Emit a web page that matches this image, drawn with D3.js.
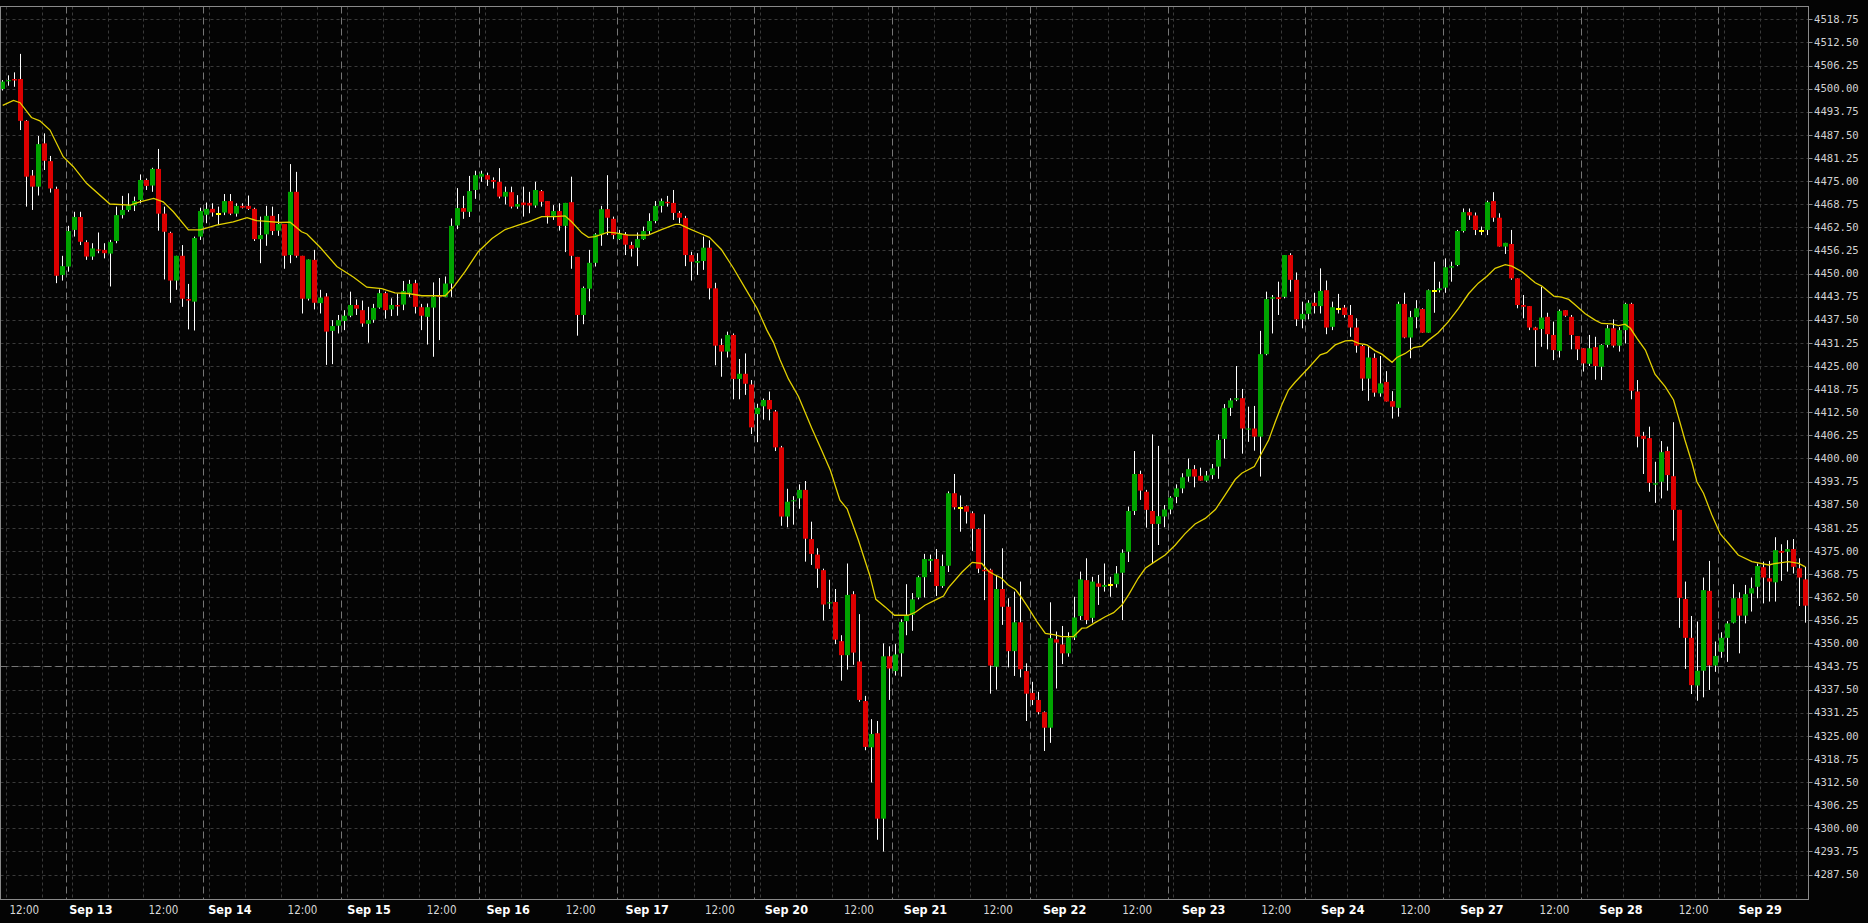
<!DOCTYPE html>
<html><head><meta charset="utf-8">
<script src="https://cdn.jsdelivr.net/npm/d3@7"></script>
<style>html,body{margin:0;padding:0;background:#040404;overflow:hidden}</style>
</head><body>
<svg id="chart" width="1868" height="923"></svg>
<script>
// ---- DATA (hourly candles) ----
const opens = [
4499.9,4502.0,4502.6,4502.6,4491.3,4476.5,4473.5,4485.2,4480.4,4472.9,
4449.6,4451.9,4461.8,4465.3,4458.5,4454.6,4456.5,4456.4,4455.4,4458.8,
4465.8,4467.2,4468.4,4469.9,4475.3,4473.8,4478.3,4466.2,4461.0,4448.1,
4454.8,4443.1,4442.4,4460.0,4465.9,4467.5,4466.2,4466.5,4469.6,4466.2,
4468.3,4468.3,4467.5,4459.3,4460.6,4465.6,4461.6,4463.4,4455.0,4472.1,
4454.8,4443.2,4453.7,4442.0,4443.8,4434.5,4435.9,4437.2,4438.6,4441.5,
4440.1,4436.4,4437.5,4440.8,4444.7,4440.3,4441.5,4441.6,4444.8,4447.4,
4440.9,4438.3,4440.8,4444.1,4443.7,4447.3,4463.0,4467.7,4466.7,4472.6,
4476.2,4476.6,4475.3,4474.8,4470.8,4472.0,4468.1,4469.2,4469.1,4468.4,
4472.3,4469.6,4465.6,4466.9,4462.9,4469.3,4454.5,4438.8,4445.9,4452.9,
4460.6,4467.4,4464.8,4459.3,4460.6,4457.7,4457.0,4459.3,4461.5,4464.2,
4468.3,4469.4,4469.1,4466.4,4465.0,4455.0,4452.9,4453.4,4457.0,4446.0,
4430.7,4428.9,4433.4,4421.5,4422.9,4420.0,4412.0,4414.1,4415.8,4412.7,
4403.0,4384.3,4388.4,4389.2,4391.5,4378.2,4374.0,4369.8,4360.8,4361.2,
4350.6,4346.8,4363.3,4345.1,4334.4,4321.9,4325.7,4302.6,4346.5,4342.5,
4347.3,4356.0,4357.7,4362.4,4367.9,4372.3,4372.8,4365.5,4371.0,4390.6,
4386.6,4387.1,4385.2,4380.9,4369.9,4369.9,4343.7,4364.7,4359.9,4347.9,
4355.7,4342.5,4336.6,4334.7,4331.4,4327.2,4351.1,4349.7,4347.3,4351.6,
4357.4,4367.1,4356.9,4366.2,4365.3,4365.9,4366.0,4369.1,4374.8,4385.8,
4395.8,4391.0,4385.8,4382.3,4384.3,4386.2,4389.6,4391.9,4395.1,4397.1,
4395.3,4394.0,4395.5,4397.8,4405.3,4413.7,4415.9,4416.3,4407.8,4408.1,
4405.9,4428.2,4443.2,4443.6,4443.7,4455.0,4448.3,4437.6,4439.1,4442.1,
4441.2,4445.5,4435.6,4440.5,4440.8,4438.8,4435.4,4430.4,4421.6,4427.2,
4417.6,4420.7,4415.5,4413.7,4441.8,4432.7,4438.2,4440.4,4434.0,4445.4,
4445.5,4446.2,4451.6,4452.3,4461.5,4466.6,4465.7,4461.6,4461.8,4469.6,
4465.1,4457.3,4458.0,4448.7,4441.5,4441.2,4435.4,4435.0,4438.3,4433.4,
4429.1,4440.1,4438.3,4433.1,4429.8,4425.6,4430.1,4424.8,4430.7,4435.2,
4430.5,4434.7,4441.8,4418.1,4406.1,4405.5,4392.9,4393.7,4402.0,4395.2,
4386.1,4362.0,4351.5,4338.6,4342.6,4364.2,4344.0,4347.7,4351.5,4355.6,
4362.2,4357.5,4363.5,4365.3,4370.6,4367.6,4366.5,4375.0,4374.8,4375.5,
4370.3,4367.3];
const highs = [
4502.3,4503.6,4504.4,4509.4,4491.5,4478.0,4487.2,4487.9,4481.8,4473.5,
4454.8,4462.9,4466.7,4466.7,4459.0,4458.2,4461.1,4458.2,4459.1,4468.1,
4471.0,4471.7,4470.8,4476.8,4475.7,4478.6,4483.7,4468.1,4461.3,4454.8,
4457.7,4447.2,4460.0,4467.8,4469.2,4469.0,4468.1,4471.5,4471.5,4469.0,
4469.0,4471.1,4467.8,4465.4,4468.3,4468.1,4466.1,4463.4,4479.6,4477.5,
4454.8,4453.8,4456.4,4445.6,4444.7,4437.4,4438.8,4440.1,4445.1,4443.0,
4442.7,4441.0,4441.8,4445.7,4445.1,4443.3,4444.6,4448.0,4448.3,4448.3,
4441.8,4441.9,4447.6,4448.8,4449.2,4464.9,4473.1,4471.0,4476.4,4477.8,
4477.8,4477.3,4476.0,4478.5,4473.5,4473.5,4471.2,4473.5,4472.1,4474.8,
4472.6,4469.6,4468.5,4469.0,4469.1,4476.2,4454.5,4446.5,4456.4,4460.9,
4468.3,4476.6,4465.4,4461.8,4461.2,4458.6,4461.1,4462.7,4466.3,4469.6,
4470.3,4471.0,4472.6,4466.9,4465.6,4455.9,4455.5,4460.0,4459.0,4447.5,
4432.4,4434.3,4433.8,4426.9,4428.4,4421.2,4414.8,4416.2,4418.1,4413.1,
4403.4,4391.8,4389.8,4393.0,4393.9,4382.9,4375.7,4370.2,4367.2,4364.7,
4352.2,4371.6,4364.1,4357.9,4335.8,4329.5,4329.0,4350.0,4349.2,4349.8,
4356.5,4366.0,4363.6,4368.3,4374.2,4374.0,4375.5,4374.0,4391.1,4395.8,
4390.0,4387.3,4385.7,4381.1,4384.9,4370.2,4368.3,4375.7,4362.2,4364.0,
4366.7,4344.6,4339.6,4336.9,4331.6,4361.1,4353.2,4354.7,4353.0,4362.6,
4369.4,4373.0,4368.0,4368.5,4371.6,4368.0,4370.9,4375.4,4387.0,4402.0,
4396.7,4391.5,4406.5,4403.4,4387.4,4389.8,4393.0,4396.0,4400.0,4398.2,
4397.5,4396.6,4398.5,4406.5,4414.7,4416.3,4425.0,4418.8,4414.0,4414.2,
4434.5,4445.1,4444.2,4447.8,4455.0,4455.5,4450.3,4442.4,4442.8,4444.8,
4451.4,4448.1,4442.4,4444.5,4441.5,4441.5,4437.9,4430.7,4430.2,4428.4,
4427.7,4423.6,4418.2,4442.4,4444.8,4439.9,4442.8,4440.6,4445.7,4453.2,
4447.8,4454.1,4453.2,4461.8,4467.6,4467.6,4466.5,4462.7,4469.7,4472.0,
4466.3,4458.3,4461.8,4448.7,4444.2,4441.2,4435.6,4446.4,4439.4,4437.0,
4440.3,4440.1,4438.8,4433.1,4429.8,4433.4,4432.9,4430.9,4436.1,4437.6,
4435.5,4442.1,4442.1,4421.2,4407.2,4408.6,4399.1,4404.7,4403.2,4409.8,
4386.1,4366.7,4357.4,4355.9,4367.8,4372.3,4350.5,4353.0,4356.0,4366.0,
4363.8,4365.8,4367.8,4371.6,4372.1,4372.3,4378.7,4376.8,4377.9,4378.2,
4373.0,4370.7];
const lows = [
4499.5,4500.8,4500.5,4488.8,4468.1,4467.2,4471.1,4478.0,4471.9,4447.4,
4448.1,4450.5,4460.0,4457.7,4453.7,4453.7,4455.5,4454.1,4446.5,4458.2,
4464.9,4466.7,4466.9,4469.0,4472.6,4472.1,4461.6,4448.4,4442.1,4445.6,
4441.0,4434.9,4434.6,4459.1,4463.6,4465.4,4463.1,4465.8,4465.8,4465.4,
4467.6,4467.2,4458.8,4452.8,4457.5,4460.4,4460.2,4451.3,4452.8,4454.3,
4439.2,4442.7,4440.3,4439.2,4425.3,4425.5,4433.8,4434.7,4438.2,4438.8,
4435.6,4431.3,4436.7,4440.5,4437.8,4438.5,4438.6,4440.1,4443.7,4439.2,
4434.7,4430.8,4427.5,4432.0,4443.7,4443.7,4462.0,4464.8,4465.3,4470.2,
4474.8,4473.7,4473.0,4470.3,4468.7,4467.6,4467.5,4465.4,4466.3,4467.8,
4468.1,4463.5,4464.5,4461.6,4455.8,4451.3,4433.2,4436.3,4442.5,4451.9,
4457.5,4460.4,4459.3,4459.1,4455.0,4454.6,4452.0,4459.1,4460.6,4463.6,
4466.5,4468.1,4464.5,4463.6,4452.0,4448.1,4449.6,4451.0,4443.0,4425.2,
4422.1,4427.3,4416.0,4416.0,4417.2,4406.6,4404.4,4410.5,4410.3,4402.0,
4381.8,4381.4,4382.1,4386.4,4372.1,4371.2,4365.0,4356.2,4359.3,4349.8,
4339.9,4342.9,4344.2,4334.2,4321.1,4312.4,4296.9,4293.7,4334.7,4341.3,
4341.0,4352.2,4353.4,4361.9,4362.4,4369.3,4362.8,4365.0,4369.3,4386.2,
4380.2,4382.4,4375.0,4369.0,4361.7,4336.4,4337.5,4355.0,4343.5,4341.2,
4340.8,4329.0,4333.3,4330.8,4320.9,4323.1,4337.8,4344.4,4346.4,4350.9,
4356.3,4355.2,4355.6,4360.4,4364.0,4362.6,4365.1,4356.3,4372.0,4384.7,
4388.8,4381.3,4371.5,4376.6,4381.4,4384.9,4387.9,4390.6,4393.7,4392.2,
4394.0,4393.7,4394.4,4394.5,4400.0,4411.5,4415.5,4401.3,4404.5,4402.1,
4395.1,4427.9,4433.8,4438.8,4443.3,4445.1,4435.8,4435.2,4437.6,4439.2,
4439.2,4433.6,4434.7,4439.2,4438.1,4432.9,4428.6,4418.3,4415.6,4416.7,
4416.7,4415.4,4410.8,4411.3,4432.5,4427.1,4435.2,4434.0,4434.0,4439.4,
4444.9,4444.8,4447.8,4452.0,4461.1,4464.5,4460.4,4460.4,4460.4,4464.0,
4457.3,4455.3,4448.3,4440.6,4437.9,4434.7,4424.8,4430.2,4429.5,4426.6,
4427.3,4438.3,4429.5,4426.6,4423.5,4425.0,4421.3,4421.2,4430.0,4430.0,
4428.9,4431.1,4416.0,4403.0,4395.8,4391.0,4388.0,4389.2,4391.3,4377.8,
4354.2,4343.1,4336.3,4334.5,4335.4,4337.4,4342.3,4346.1,4345.0,4355.4,
4347.3,4355.4,4358.6,4362.2,4360.8,4361.3,4361.3,4366.9,4369.4,4368.9,
4360.1,4355.6];
const closes = [
4501.9,4502.3,4502.2,4491.3,4476.2,4473.5,4485.0,4480.5,4473.0,4449.4,
4452.0,4461.5,4465.3,4458.6,4454.6,4456.8,4456.2,4455.5,4458.5,4465.8,
4467.2,4468.4,4469.6,4475.3,4473.7,4478.3,4466.2,4461.3,4448.1,4454.8,
4443.2,4442.7,4459.6,4466.9,4467.5,4466.5,4466.2,4469.6,4466.2,4468.3,
4467.8,4467.5,4459.3,4460.4,4465.6,4461.5,4463.4,4454.8,4472.1,4454.8,
4443.2,4453.8,4442.1,4443.5,4434.3,4435.8,4437.4,4438.6,4441.5,4440.5,
4436.5,4437.4,4440.7,4444.7,4440.1,4441.5,4441.1,4445.3,4447.2,4441.0,
4438.6,4440.9,4443.7,4443.7,4447.3,4462.9,4467.7,4466.7,4472.3,4476.6,
4477.0,4475.4,4474.8,4470.8,4472.1,4468.1,4468.8,4468.5,4468.4,4472.6,
4469.4,4465.6,4466.9,4462.9,4469.1,4454.8,4438.8,4446.1,4452.9,4460.6,
4467.4,4465.1,4460.4,4460.9,4457.8,4456.7,4459.3,4461.5,4464.2,4468.3,
4469.6,4469.0,4466.4,4465.1,4455.0,4453.2,4453.4,4457.0,4446.0,4430.5,
4428.9,4433.4,4421.5,4422.9,4420.2,4408.4,4413.7,4415.8,4413.3,4403.0,
4384.3,4388.3,4388.7,4391.5,4378.3,4374.2,4370.2,4360.5,4361.1,4351.0,
4346.8,4363.1,4347.5,4334.7,4322.0,4325.5,4302.6,4346.5,4343.2,4347.0,
4355.8,4357.4,4361.9,4367.9,4372.8,4372.8,4365.5,4370.9,4390.6,4386.8,
4386.6,4385.6,4381.0,4370.2,4369.5,4344.0,4364.7,4359.9,4347.9,4355.7,
4343.0,4336.4,4334.7,4331.4,4327.2,4351.4,4350.2,4347.3,4351.6,4357.0,
4367.3,4356.3,4366.7,4365.3,4365.8,4365.9,4368.9,4374.5,4385.8,4395.8,
4391.3,4386.1,4382.3,4384.4,4386.2,4389.4,4391.9,4394.9,4397.1,4395.1,
4394.0,4395.4,4397.3,4405.0,4413.6,4415.7,4416.3,4408.1,4408.1,4405.9,
4428.2,4443.1,4443.6,4443.1,4455.0,4448.3,4437.6,4439.1,4442.1,4441.2,
4445.3,4435.4,4440.9,4440.5,4438.8,4435.4,4430.5,4421.6,4427.3,4417.8,
4420.3,4415.4,4414.0,4441.8,4432.7,4438.2,4440.6,4434.0,4445.5,4445.4,
4446.0,4451.7,4452.0,4461.5,4466.6,4465.7,4461.8,4461.6,4469.3,4465.1,
4457.3,4458.3,4448.7,4441.5,4441.0,4435.4,4434.7,4438.1,4433.6,4429.3,
4439.9,4438.6,4433.4,4429.5,4425.7,4429.8,4425.0,4430.7,4435.2,4430.5,
4434.7,4441.8,4418.3,4405.9,4405.3,4393.4,4393.3,4401.7,4395.5,4386.1,
4362.3,4351.5,4338.7,4342.6,4364.4,4344.0,4346.6,4351.5,4355.4,4362.2,
4357.5,4363.3,4364.9,4370.9,4367.8,4366.7,4375.2,4374.5,4375.5,4370.7,
4367.8,4360.2];

// moving average line, read as [candle index, value]
const maPoints = [
[0,4495.5],[1.8,4496.8],[2.9,4496.2],[4.8,4492.2],[6.2,4491.3],[7.9,4488.8],[10.1,4481.6],[11.8,4478.9],
[14.0,4474.4],[17.9,4468.8],[21.3,4468.5],[22.9,4469.4],[25.2,4470.3],[26.8,4469.4],[28.5,4466.7],[31.0,4461.8],
[33.0,4461.8],[35.7,4463.1],[38.5,4464.0],[40.8,4465.1],[42.4,4464.3],[44.1,4464.1],[46.3,4463.8],[48.0,4463.9],
[49.9,4461.3],[50.8,4460.7],[53.0,4457.1],[55.8,4451.9],[58.6,4449.0],[60.8,4446.3],[63.3,4445.9],[65.5,4444.8],
[67.7,4444.6],[70.0,4444.0],[73.9,4444.0],[75.3,4446.4],[77.2,4450.5],[79.4,4455.9],[81.7,4459.5],[83.9,4461.9],
[86.1,4463.1],[87.8,4464.0],[90.0,4465.4],[92.2,4465.4],[93.9,4465.6],[95.0,4464.0],[96.7,4461.0],[97.8,4459.8],
[98.9,4460.0],[101.1,4461.2],[102.3,4461.0],[104.5,4460.4],[107.8,4460.4],[110.0,4461.9],[112.3,4463.3],[113.1,4463.3],
[114.5,4462.2],[116.4,4460.9],[118,4459.8],[120,4456.5],[122,4451.5],[124,4446.0],[126,4440.5],[127.6,4434.7],
[128.7,4431.4],[129.8,4426.7],[131.2,4421.5],[132.9,4416.7],[135.1,4408.2],[136.8,4402.0],[138.2,4396.8],[139.8,4388.7],
[141.0,4386.4],[142.9,4377.8],[144.8,4368.3],[145.8,4361.9],[147.4,4359.8],[148.9,4357.6],[151.2,4357.6],[152.4,4358.4],
[154.0,4360.3],[155.7,4361.7],[157.1,4362.8],[157.9,4365.0],[160.2,4369.3],[161.9,4371.9],[163.5,4371.6],[164.6,4369.5],
[165.7,4368.5],[166.8,4367.6],[167.9,4365.8],[169.1,4364.6],[170.2,4362.2],[171.3,4359.5],[172.7,4355.9],[174.1,4352.7],
[175.7,4352.3],[176.8,4351.8],[178.8,4351.8],[180.2,4354.1],[181.0,4354.2],[182.4,4355.6],[184.1,4357.2],[185.5,4358.3],
[186.9,4360.4],[188.0,4363.1],[189.6,4367.6],[190.8,4370.3],[192.4,4372.1],[194.1,4373.9],[195.8,4376.6],[197.4,4379.6],
[199.1,4382.3],[200.8,4383.8],[202.5,4386.2],[204.1,4390.1],[205.8,4394.3],[206.9,4396.0],[209.0,4397.8],[210.2,4401.4],
[211.4,4405.0],[212.5,4409.9],[213.6,4414.5],[214.7,4418.5],[215.8,4420.6],[218.0,4424.4],[220.0,4428.0],[221.1,4428.6],
[222.5,4430.7],[224.2,4431.8],[225.3,4431.9],[226.4,4431.1],[227.8,4430.7],[229.2,4429.1],[230.3,4428.2],[232.0,4426.0],
[232.8,4427.3],[234.2,4428.4],[235.6,4430.0],[237.0,4430.4],[238.1,4432.0],[239.7,4434.0],[241.4,4437.0],[243.1,4440.6],
[244.8,4444.6],[246.4,4447.4],[247.8,4449.2],[249.2,4451.4],[250.9,4452.4],[252.0,4452.0],[253.7,4450.5],[255.9,4447.5],
[257.0,4446.6],[259.0,4443.9],[260.3,4443.6],[261.5,4443.0],[262.6,4441.5],[264.2,4439.2],[265.9,4437.4],[267.0,4436.5],
[268.7,4436.4],[269.8,4435.9],[270.9,4436.3],[271.8,4435.2],[272.9,4432.5],[274.3,4429.3],[275.9,4422.8],[277.6,4419.4],
[279.0,4415.8],[279.8,4411.3],[280.9,4405.0],[282.1,4398.7],[282.9,4393.7],[284.0,4390.6],[285.4,4384.7],[286.8,4379.6],
[288.2,4377.0],[289.8,4373.9],[292.1,4372.1],[294.9,4371.2],[296.0,4371.6],[298.2,4372.1],[299.9,4371.6],[301.0,4370.7]];

const priceTicks = [4287.50,4293.75,4300.00,4306.25,4312.50,4318.75,4325.00,4331.25,4337.50,4343.75,
4350.00,4356.25,4362.50,4368.75,4375.00,4381.25,4387.50,4393.75,4400.00,4406.25,4412.50,4418.75,
4425.00,4431.25,4437.50,4443.75,4450.00,4456.25,4462.50,4468.75,4475.00,4481.25,4487.50,4493.75,
4500.00,4506.25,4512.50,4518.75];
const timeLabels = ["12:00","Sep 13","12:00","Sep 14","12:00","Sep 15","12:00","Sep 16","12:00","Sep 17",
"12:00","Sep 20","12:00","Sep 21","12:00","Sep 22","12:00","Sep 23","12:00","Sep 24","12:00","Sep 27",
"12:00","Sep 28","12:00","Sep 29"];
const levelPrice = 4343.75;
const firstDayStart = 11;   // candle index where the first full session (Sep 13) begins
const sessionBars = 23;     // hourly bars per session
const sessionCount = 13;

// ---- LAYOUT ----
const W = 1868, H = 923;
const plot = {left: 0.5, top: 6.5, right: 1808.5, bottom: 899.5};
const svg = d3.select("#chart");
svg.append("rect").attr("width", W).attr("height", H).attr("fill", "#040404");

const n = opens.length;
const x = d3.scaleLinear().domain([0, n - 1]).range([2.7, 1805.3]);
const y = d3.scaleLinear().domain([4287.5, 4518.75]).range([874.5, 19.3]);
// time-label axis: trading-hour units from the first 12:00 label
const labelUnits = timeLabels.map((t, k) => Math.floor(k / 2) * sessionBars + (k % 2) * 11);
const xl = d3.scaleLinear().domain([0, 287]).range([24.3, 1760.1]);

svg.append("defs").append("clipPath").attr("id", "clip")
  .append("rect").attr("x", plot.left).attr("y", plot.top)
  .attr("width", plot.right - plot.left).attr("height", plot.bottom - plot.top);

const grid = svg.append("g").attr("clip-path", "url(#clip)");
// horizontal grid
grid.selectAll("line.h").data(priceTicks).join("line")
  .attr("x1", plot.left).attr("x2", plot.right)
  .attr("y1", d => Math.round(y(d)) + 0.5).attr("y2", d => Math.round(y(d)) + 0.5)
  .attr("stroke", "#3a3a3a").attr("stroke-width", 1).attr("stroke-dasharray", "3,3");

// vertical grid lines (every 6 bars within each session) and session separators
const vLines = [], seps = [];
for (let d = -1; d <= sessionCount; d++) {
  const s = firstDayStart + sessionBars * d;
  [0.5, 6.5, 12.5, 18.5].forEach(o => { if (s + o > 0 && s + o < n) vLines.push(s + o); });
  if (d >= 0 && d < sessionCount) seps.push(s - 0.5);
}
grid.selectAll("line.v").data(vLines).join("line")
  .attr("x1", d => Math.round(x(d)) + 0.5).attr("x2", d => Math.round(x(d)) + 0.5)
  .attr("y1", plot.top).attr("y2", plot.bottom)
  .attr("stroke", "#3a3a3a").attr("stroke-width", 1).attr("stroke-dasharray", "3,3");
grid.selectAll("line.sep").data(seps).join("line")
  .attr("x1", d => Math.round(x(d)) + 0.5).attr("x2", d => Math.round(x(d)) + 0.5)
  .attr("y1", plot.top).attr("y2", plot.bottom)
  .attr("stroke", "#767676").attr("stroke-width", 1).attr("stroke-dasharray", "7,4");
grid.append("line")
  .attr("x1", plot.left).attr("x2", plot.right)
  .attr("y1", Math.round(y(levelPrice)) + 0.5).attr("y2", Math.round(y(levelPrice)) + 0.5)
  .attr("stroke", "#767676").attr("stroke-width", 1).attr("stroke-dasharray", "7,4");

// candles
const bars = d3.range(n).map(i => ({i, o: opens[i], h: highs[i], l: lows[i], c: closes[i]}));
const cg = svg.append("g").attr("clip-path", "url(#clip)");
cg.selectAll("line.wick").data(bars).join("line")
  .attr("x1", d => Math.floor(x(d.i)) + 0.5).attr("x2", d => Math.floor(x(d.i)) + 0.5)
  .attr("y1", d => y(d.h)).attr("y2", d => y(d.l))
  .attr("stroke", "#ffffff").attr("stroke-width", 1);
cg.selectAll("rect.body").data(bars).join("rect")
  .attr("x", d => Math.floor(x(d.i)) - 2)
  .attr("width", 5)
  .attr("y", d => d.o === d.c ? Math.round(y(d.o)) - 1 : Math.min(y(d.o), y(d.c)))
  .attr("height", d => d.o === d.c ? 2 : Math.max(1, Math.abs(y(d.o) - y(d.c))))
  .attr("fill", d => d.o === d.c ? "#ffff00" : (d.c > d.o ? "#00a400" : "#dc0000"));

// moving average
cg.append("path").datum(maPoints)
  .attr("d", d3.line().x(d => x(d[0])).y(d => y(d[1])))
  .attr("fill", "none").attr("stroke", "#e2d000").attr("stroke-width", 1.3);

// frame
svg.append("rect").attr("x", plot.left).attr("y", plot.top)
  .attr("width", plot.right - plot.left).attr("height", plot.bottom - plot.top)
  .attr("fill", "none").attr("stroke", "#8a8a8a").attr("stroke-width", 1);

// price axis
const pa = svg.append("g");
pa.selectAll("line").data(priceTicks).join("line")
  .attr("x1", plot.right).attr("x2", plot.right + 4)
  .attr("y1", d => Math.round(y(d)) + 0.5).attr("y2", d => Math.round(y(d)) + 0.5)
  .attr("stroke", "#8a8a8a");
pa.selectAll("text").data(priceTicks).join("text")
  .attr("x", 1814).attr("y", d => y(d)).attr("dy", "0.35em")
  .attr("fill", "#d2d2d2").attr("font-family", "'DejaVu Sans Mono', monospace")
  .attr("font-size", "10.6px").text(d => d.toFixed(2));

// time axis
svg.append("g").selectAll("text").data(timeLabels).join("text")
  .attr("x", (d, k) => xl(labelUnits[k])).attr("y", 914)
  .attr("text-anchor", "middle")
  .attr("font-family", "'DejaVu Sans Condensed', 'Liberation Sans Narrow', 'DejaVu Sans', sans-serif")
  .attr("font-stretch", "condensed")
  .attr("font-weight", d => d === "12:00" ? "normal" : "bold")
  .attr("font-size", d => d === "12:00" ? "11.5px" : "12.5px")
  .attr("fill", d => d === "12:00" ? "#d8d8d8" : "#ffffff")
  .text(d => d);
</script>
</body></html>
